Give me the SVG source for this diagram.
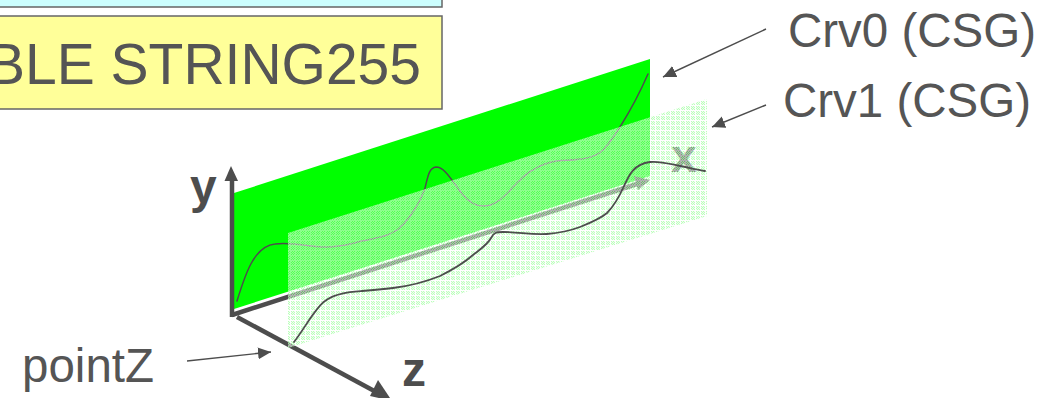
<svg xmlns="http://www.w3.org/2000/svg" width="1057" height="398" viewBox="0 0 1057 398">
<style>
.lbl{font-family:"Liberation Sans",Arial,sans-serif;font-size:47.5px;fill:#555}
.ax{font-family:"Liberation Sans",Arial,sans-serif;font-size:48px;font-weight:bold;fill:#4d4d4d}
.box{stroke:#666;stroke-width:1.5}
.thin{fill:none;stroke:#4d4d4d;stroke-width:1.4}
.axis{fill:none;stroke:#4d4d4d;stroke-width:4.5}
.crv{fill:none;stroke:#4d4d4d;stroke-width:1.8;stroke-linecap:round}
.d{fill:#a8ffa8;fill-opacity:.72}
.g{fill:#ffffff;fill-opacity:.55}
</style>
<defs>
<marker id="ah" markerUnits="userSpaceOnUse" markerWidth="16" markerHeight="14" refX="13" refY="6" orient="auto"><path d="M0,0L13,6L0,12Z" fill="#4d4d4d"/></marker>
<pattern id="veil" patternUnits="userSpaceOnUse" width="5" height="5">
<rect x="1" y="1" width="4" height="4" fill="#d8ffd8" fill-opacity=".4"/>
<rect class="g" width="5" height="1"/><rect class="g" y="1" width="1" height="4"/>
<rect class="d" x="1" y="1" width="1" height="1"/><rect class="d" x="3" y="1" width="1" height="1"/>
<rect class="d" x="2" y="2" width="1" height="1"/><rect class="d" x="4" y="2" width="1" height="1"/>
<rect class="d" x="1" y="3" width="1" height="1"/><rect class="d" x="3" y="3" width="1" height="1"/>
<rect class="d" x="2" y="4" width="1" height="1"/><rect class="d" x="4" y="4" width="1" height="1"/>
</pattern>
</defs>
<g id="box-cyan"><rect class="box" x="-5" y="-20" width="447" height="27" fill="#ccffff"/></g>
<g id="box-yellow"><rect class="box" x="-5" y="16" width="447" height="93" fill="#ffff99"/><text x="421" y="84" text-anchor="end" style="font-family:'Liberation Sans',Arial,sans-serif;font-size:57px;fill:#555">BLE STRING255</text></g>
<g id="plane0"><polygon points="234,193 650,59 650,176 234,309" fill="#00ff00"/></g>
<g id="connectors">
<path class="axis" d="M232,317V180"/><polygon points="231,166 224.500,181 238,181" fill="#4d4d4d"/>
<path class="axis" d="M232,315L640,183"/><polygon points="650,180 634,176 638,190" fill="#4d4d4d"/>
<path class="axis" d="M237,317L378,393"/><polygon points="392,401 370,396 378,380" fill="#4d4d4d"/>
<path class="thin" d="M766,29L663,77" marker-end="url(#ah)"/>
<path class="thin" d="M766,105L712,127" marker-end="url(#ah)"/>
<path class="thin" d="M187,361L271,352" marker-end="url(#ah)"/>
</g>
<g id="curve0"><path class="crv" style="stroke-width:1.5" d="M237,301C245,275 254,246 275,244C292,242 305,246 323,247C340,248 352,243 367,240C380,237 388,236 397,230C410,220 421,200 425,188C428,176 429,168 436,167C445,167 452,181 463,195C470,203 476,206 483,206C495,206 503,198 513,187C522,178 526,173 533,170C542,164 550,162 557,161C570,160 578,160 587,158C596,156 600,153 603,150C610,143 630,115 648,74"/></g>
<g id="label-x"><text class="ax" x="671" y="172" style="font-size:46px">x</text></g>
<g id="plane1"><polygon points="288,233 707,99 707,216 288,348" fill="url(#veil)"/></g>
<g id="curve1"><path class="crv" d="M294,342C305,328 315,308 325,301C335,293 350,292 362,291C375,290 385,289 393,288C410,286 425,282 440,276C452,270 465,262 473,255C482,248 488,244 491,238C494,232 497,232 503,232C520,232 530,235 547,234C560,233 572,230 580,227C590,223 600,219 607,213C615,205 620,195 624,186C629,175 634,164 650,162C660,161 670,164 680,166C690,168 698,170 705,171"/></g>
<g id="label-crv0"><text class="lbl" x="788" y="47">Crv0 (CSG)</text></g>
<g id="label-crv1"><text class="lbl" x="783" y="117">Crv1 (CSG)</text></g>
<g id="label-pointZ"><text class="lbl" x="22" y="382">pointZ</text></g>
<g id="label-y"><text class="ax" x="190" y="203">y</text></g>
<g id="label-z"><text class="ax" x="402" y="386">z</text></g>
</svg>
